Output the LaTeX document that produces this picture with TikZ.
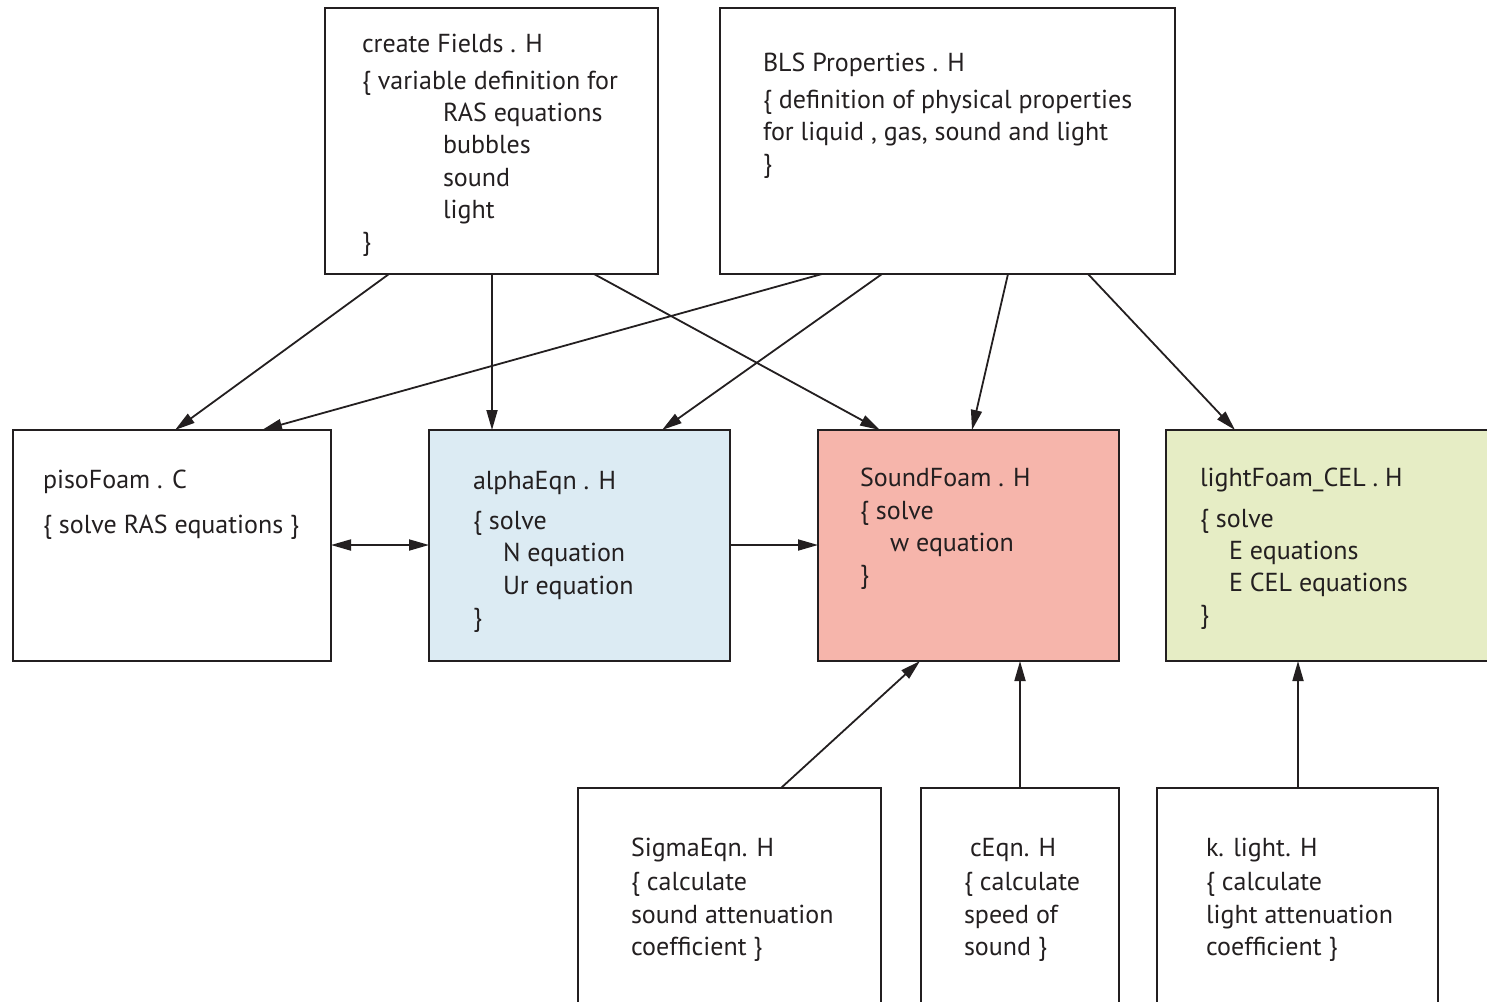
\documentclass[tikz,border=0pt]{standalone}
\usepackage{fontspec}
\setmainfont{PT Sans}
\usetikzlibrary{arrows.meta,calc,fit}
\definecolor{ink}{HTML}{231F20}
\definecolor{bluefill}{RGB}{220,235,243}
\definecolor{redfill}{RGB}{246,181,171}
\definecolor{greenfill}{RGB}{230,237,197}
\begin{document}
\begin{tikzpicture}[x=0.5pt,y=-0.5pt,
  box/.style={draw=ink, line width=1pt, inner sep=0pt, outer sep=0pt},
  lbl/.style={anchor=base west, inner sep=0pt, outer sep=0pt, text=ink, font=\fontsize{13}{15.6}\selectfont},
  arr/.style={draw=ink, line width=0.9pt, -{Triangle[length=10pt,width=5.5pt]}},
  darr/.style={draw=ink, line width=0.9pt, {Triangle[length=10pt,width=5.5pt]}-{Triangle[length=10pt,width=5.5pt]}}
]
\useasboundingbox (0,0) rectangle (1487,1001);
\clip (0,0) rectangle (1487,1001);

% boxes
\node[box, fit={(325,8) (658,274)}] (cf) {};
\node[box, fit={(720,8) (1175,274)}] (bls) {};
\node[box, fit={(13,430) (331,661)}] (piso) {};
\node[box, fill=bluefill, fit={(429,430) (730,661)}] (alpha) {};
\node[box, fill=redfill, fit={(818,430) (1119,661)}] (sound) {};
\node[box, fill=greenfill, fit={(1166,430) (1500,661)}] (light) {};
\node[box, fit={(578,788) (881,1012)}] (sigma) {};
\node[box, fit={(921,788) (1119,1012)}] (ceqn) {};
\node[box, fit={(1157,788) (1438,1012)}] (klight) {};

% createFields text
\node[lbl] (cf1) at (362,52) {create Fields . H};
\node[lbl] (cf2) at (362,89.5) {\{ variable definition for};
\node[lbl] (cf3) at (443,121.5) {RAS equations};
\node[lbl] (cf4) at (443,153.5) {bubbles};
\node[lbl] (cf5) at (443,186) {sound};
\node[lbl] (cf6) at (443,218) {light};
\node[lbl] (cf7) at (362,250) {\}};

% BLS text
\node[lbl] (b1) at (763,71) {BLS Properties . H};
\node[lbl] (b2) at (763,108) {\{ definition of physical properties};
\node[lbl] (b3) at (763,140) {for liquid , gas, sound and light};
\node[lbl] (b4) at (763,172) {\}};

% pisoFoam text
\node[lbl] (p1) at (43,488) {pisoFoam . C};
\node[lbl] (p2) at (43,533) {\{ solve RAS equations \}};

% alphaEqn text
\node[lbl] (a1) at (473,489) {alphaEqn . H};
\node[lbl] (a2) at (473,529) {\{ solve};
\node[lbl] (a3) at (503,561.5) {N equation};
\node[lbl] (a4) at (503,594) {Ur equation};
\node[lbl] (a5) at (473,626) {\}};

% SoundFoam text
\node[lbl] (s1) at (860,486) {SoundFoam . H};
\node[lbl] (s2) at (860,519) {\{ solve};
\node[lbl] (s3) at (890,551) {w equation};
\node[lbl] (s4) at (860,583) {\}};

% lightFoam text
\node[lbl] (l1) at (1200,486) {lightFoam\_CEL . H};
\node[lbl] (l2) at (1200,527) {\{ solve};
\node[lbl] (l3) at (1229,559) {E equations};
\node[lbl] (l4) at (1229,591) {E CEL equations};
\node[lbl] (l5) at (1200,623) {\}};

% bottom boxes text
\node[lbl] (g1) at (631,856) {SigmaEqn. H};
\node[lbl] (g2) at (631,890) {\{ calculate};
\node[lbl] (g3) at (631,923) {sound attenuation};
\node[lbl] (g4) at (631,955) {coefficient \}};

\node[lbl] (c1) at (970,856) {cEqn. H};
\node[lbl] (c2) at (964,890) {\{ calculate};
\node[lbl] (c3) at (964,923) {speed of};
\node[lbl] (c4) at (964,955) {sound \}};

\node[lbl] (k1) at (1206,856) {k. light. H};
\node[lbl] (k2) at (1206,890) {\{ calculate};
\node[lbl] (k3) at (1206,923) {light attenuation};
\node[lbl] (k4) at (1206,955) {coefficient \}};

% connectors
\draw[arr] ($(cf.south west)+(64,0)$) -- ($(piso.north west)+(162,0)$);
\draw[arr] ($(cf.south west)+(167,0)$) -- ($(alpha.north west)+(63,0)$);
\draw[arr] ($(cf.south west)+(269,0)$) -- ($(sound.north west)+(62,0)$);
\draw[arr] ($(bls.south west)+(102,0)$) -- ($(piso.north west)+(249,0)$);
\draw[arr] ($(bls.south west)+(162,0)$) -- ($(alpha.north west)+(233,0)$);
\draw[arr] ($(bls.south west)+(288,0)$) -- ($(sound.north west)+(154,0)$);
\draw[arr] ($(bls.south west)+(368,0)$) -- ($(light.north west)+(69,0)$);
\draw[darr] ($(piso.north east)+(0,115)$) -- ($(alpha.north west)+(0,115)$);
\draw[arr] ($(alpha.north east)+(0,115)$) -- ($(sound.north west)+(0,115)$);
\draw[arr] ($(sigma.north west)+(203,0)$) -- ($(sound.south west)+(102,0)$);
\draw[arr] ($(ceqn.north west)+(99,0)$) -- ($(sound.south west)+(202,0)$);
\draw[arr] ($(klight.north west)+(141,0)$) -- ($(light.south west)+(132,0)$);
\end{tikzpicture}
\end{document}
